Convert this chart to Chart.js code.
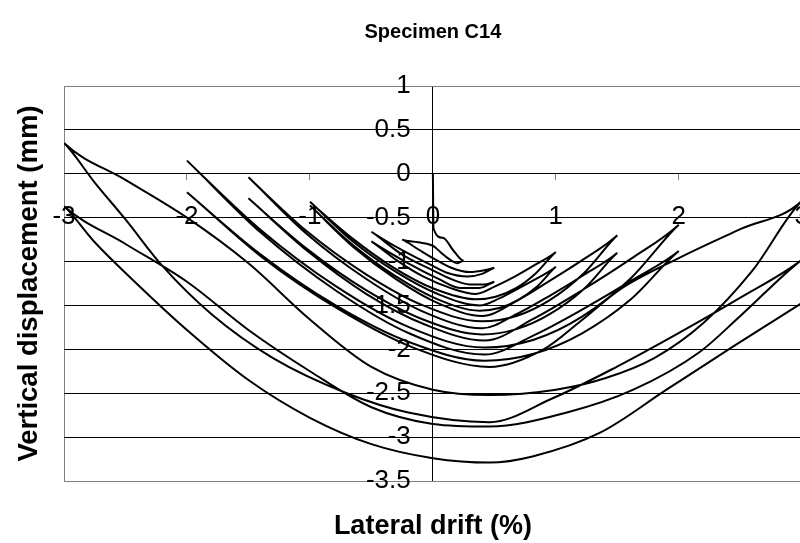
<!DOCTYPE html>
<html>
<head>
<meta charset="utf-8">
<title>Specimen C14</title>
<script src="https://cdn.jsdelivr.net/npm/chart.js@4.4.1/dist/chart.umd.min.js"></script>
<style>
  html, body { margin: 0; padding: 0; background: #fff; overflow: hidden; }
  #wrap { width: 830px; height: 543px; }
</style>
</head>
<body>
<div id="wrap"><canvas id="chart" width="830" height="543"></canvas></div>
<script>
const chartTitle = 'Specimen C14';
const xTitle = 'Lateral drift (%)';
const yTitle = 'Vertical displacement (mm)';

// drift (%) / vertical displacement (mm), one pair per drift level, in test order
const initDrift = [0, 0.005];
const initDisp = [0, -0.62];

const drift025 = [0.08, 0.17, 0.25, 0.2, 0.13, 0.06, 0, -0.12, -0.25];
const disp025 = [-0.73, -0.88, -0.99, -1.02, -0.97, -0.89, -0.82, -0.78, -0.75];

const drift05 = [-0.12, 0, 0.15, 0.3, 0.42, 0.5, 0.4, 0.28, 0.12, 0, -0.25, -0.5,
  -0.25, 0, 0.15, 0.3, 0.42, 0.5, 0.38, 0.22, 0.05, -0.2, -0.5];
const disp05 = [-0.86, -0.96, -1.07, -1.12, -1.1, -1.07, -1.14, -1.17, -1.13, -1.05, -0.87, -0.66,
  -0.92, -1.1, -1.2, -1.26, -1.26, -1.23, -1.3, -1.3, -1.2, -1.02, -0.77];

const drift1 = [-0.29, -0.08, 0.14, 0.35, 0.51, 0.68, 0.84, 1.0, 0.84, 0.68, 0.51, 0.35, 0.01, -0.33, -0.66, -1.0,
  -0.66, -0.31, 0.04, 0.38, 0.54, 0.69, 0.85, 1.0, 0.85, 0.69, 0.54, 0.38, 0.04, -0.31, -0.66, -1.0];
const disp1 = [-0.99, -1.17, -1.30, -1.37, -1.28, -1.16, -1.03, -0.89, -1.13, -1.30, -1.40, -1.43, -1.31, -1.06, -0.73, -0.32,
  -0.76, -1.11, -1.37, -1.50, -1.42, -1.31, -1.19, -1.06, -1.28, -1.44, -1.53, -1.56, -1.43, -1.16, -0.80, -0.36];

const drift15 = [-0.65, -0.3, 0.05, 0.4, 0.68, 0.95, 1.23, 1.5, 1.23, 0.95, 0.68, 0.4, -0.08, -0.55, -1.03, -1.5,
  -1.03, -0.55, -0.08, 0.4, 0.68, 0.95, 1.23, 1.5, 1.23, 0.95, 0.68, 0.4, -0.08, -0.55, -1.03, -1.5];
const disp15 = [-0.83, -1.20, -1.48, -1.62, -1.45, -1.22, -0.97, -0.70, -1.13, -1.44, -1.62, -1.68, -1.50, -1.14, -0.65, -0.04,
  -0.68, -1.19, -1.57, -1.76, -1.60, -1.39, -1.15, -0.90, -1.31, -1.60, -1.77, -1.83, -1.66, -1.32, -0.85, -0.28];

const drift2 = [-1.02, -0.54, -0.06, 0.42, 0.82, 1.21, 1.61, 2.0, 1.61, 1.21, 0.82, 0.42, -0.19, -0.79, -1.4, -2.0,
  -1.4, -0.79, -0.19, 0.42, 0.82, 1.21, 1.61, 2.0, 1.61, 1.21, 0.82, 0.42, -0.19, -0.79, -1.4, -2.0];
const disp2 = [-0.88, -1.37, -1.72, -1.90, -1.65, -1.33, -0.97, -0.58, -1.19, -1.63, -1.89, -1.98, -1.75, -1.28, -0.64, 0.15,
  -0.67, -1.33, -1.82, -2.06, -1.84, -1.55, -1.22, -0.88, -1.43, -1.82, -2.05, -2.13, -1.92, -1.50, -0.92, -0.21];

const drift3 = [-1.39, -0.77, -0.16, 0.46, 0.9, 1.2, 1.52, 2.0, 2.5, 3.0,
  2.6, 2.2, 1.8, 1.4, 1.0, 0.46, 0, -0.5, -1.0, -1.5, -2.0, -2.5, -3.0,
  -2.75, -2.5, -2.2, -1.8, -1.3, -0.7, -0.2, 0.46, 0.97, 1.48, 1.98, 2.49, 3.0,
  2.5, 2.17, 1.63, 1.09, 0.46, 0, -0.5, -1.0, -1.5, -2.0, -2.5, -3.0,
  -2.75, -2.44, -2.0, -1.5, -1.0, -0.5, 0, 0.46, 0.81, 1.36, 1.9, 2.44, 2.98, 3.3];
const disp3 = [-0.95, -1.54, -1.98, -2.20, -2.0, -1.68, -1.32, -0.96, -0.63, -0.31,
  -1.1, -1.7, -2.1, -2.33, -2.46, -2.52, -2.46, -2.20, -1.66, -1.02, -0.50, -0.07, 0.35,
  -0.10, -0.52, -1.05, -1.60, -2.10, -2.50, -2.72, -2.83, -2.56, -2.21, -1.83, -1.42, -0.98,
  -1.62, -2.03, -2.46, -2.72, -2.88, -2.85, -2.66, -2.25, -1.78, -1.23, -0.80, -0.37,
  -0.78, -1.21, -1.78, -2.35, -2.78, -3.08, -3.24, -3.29, -3.22, -2.95, -2.46, -1.97, -1.49, -1.20];

const levels = [
  [initDrift, initDisp],
  [drift025, disp025],
  [drift05, disp05],
  [drift1, disp1],
  [drift15, disp15],
  [drift2, disp2],
  [drift3, disp3],
];

const points = [];
levels.forEach(([xs, ys]) => {
  xs.forEach((x, i) => points.push({ x, y: ys[i] }));
});

const FONT = '"Liberation Sans", Arial, Helvetica, sans-serif';
const GRAY = '#808080';

// titles sit outside the chart area, axes cross at the origin
const titlesPlugin = {
  id: 'titles',
  afterDraw(chart) {
    const { ctx, chartArea } = chart;
    const cx = (chartArea.left + chartArea.right) / 2;
    const cy = (chartArea.top + chartArea.bottom) / 2;
    ctx.save();
    ctx.fillStyle = '#000';
    ctx.textAlign = 'center';
    ctx.textBaseline = 'middle';
    ctx.font = 'bold 20px ' + FONT;
    ctx.fillText(chartTitle, cx, 32);
    ctx.font = 'bold 27px ' + FONT;
    ctx.fillText(xTitle, cx, 527);
    ctx.font = 'bold 27.5px ' + FONT;
    ctx.translate(29, cy);
    ctx.rotate(-Math.PI / 2);
    ctx.fillText(yTitle, 0, 0);
    ctx.restore();
  },
};

new Chart(document.getElementById('chart'), {
  type: 'scatter',
  data: {
    datasets: [{
      data: points,
      showLine: true,
      borderColor: '#000',
      borderWidth: 2,
      pointRadius: 0,
      cubicInterpolationMode: 'monotone',
      fill: false,
    }],
  },
  options: {
    responsive: false,
    animation: false,
    layout: { padding: { left: 64, top: 86, right: 28, bottom: 62 } },
    plugins: { legend: { display: false }, tooltip: { enabled: false } },
    scales: {
      x: {
        type: 'linear',
        min: -3,
        max: 3,
        position: { y: 0 },
        border: { display: true, color: '#000', width: 1 },
        grid: {
          drawOnChartArea: true,
          color: (c) => (c.tick.value === 0 ? '#000' : (Math.abs(c.tick.value) === 3 ? GRAY : 'rgba(0,0,0,0)')),
          tickColor: GRAY,
          tickLength: 6,
        },
        ticks: { stepSize: 1, color: '#000', font: { family: FONT, size: 26 }, padding: 21, maxRotation: 0 },
      },
      y: {
        type: 'linear',
        min: -3.5,
        max: 1,
        position: { x: -0.18 },
        border: { display: false },
        grid: {
          color: (c) => (c.tick.value === 1 || c.tick.value === -3.5 ? GRAY : '#000'),
          drawTicks: false,
        },
        ticks: {
          stepSize: 0.5,
          color: '#000',
          font: { family: FONT, size: 26 },
          callback: (v) => String(Math.round(v * 10) / 10),
        },
      },
    },
  },
  plugins: [titlesPlugin],
});
</script>
</body>
</html>
